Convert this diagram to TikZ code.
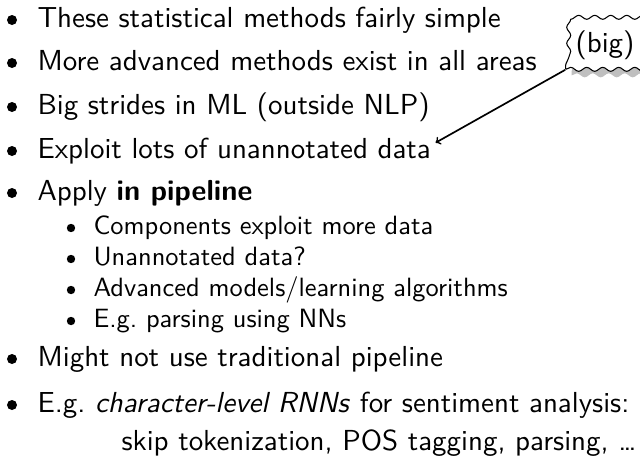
\documentclass[tikz,border=0pt]{standalone}
\usetikzlibrary{shapes.symbols,shadows,decorations.pathmorphing}
\begin{document}
\begin{tikzpicture}[x=0.025cm, y=-0.025cm,
    item/.style={anchor=base west, inner sep=0pt, scale=1.88, font=\fontsize{10.95}{13.6}\selectfont\sffamily},
    subitem/.style={anchor=base west, inner sep=0pt, scale=1.88, font=\fontsize{10}{12}\selectfont\sffamily},
    dot/.style={circle, fill=black, inner sep=0pt, minimum size=0.25cm},
    subdot/.style={circle, fill=black, inner sep=0pt, minimum size=0.21cm},
    note/.style={draw, line width=0.75pt, fill=white, inner sep=7pt,
      decorate, decoration={snake, amplitude=0.5mm, segment length=4mm},
      drop shadow={shadow xshift=1.5mm, shadow yshift=-1.5mm, fill=black!25, opacity=1}}]
    \useasboundingbox (0,0) rectangle (640,462);

    % main points
    \node[item] (it1) at (37,27)  {These statistical methods fairly simple};
    \node[item] (it2) at (37,70)  {More advanced methods exist in all areas};
    \node[item] (it3) at (37,114) {Big strides in ML (outside NLP)};
    \node[item] (it4) at (37,158) {Exploit lots of unannotated data};
    \node[item] (it5) at (37,200) {Apply \textbf{in pipeline}};
    \node[subitem] (sub1) at (93,234) {Components exploit more data};
    \node[subitem] (sub2) at (93,265) {Unannotated data?};
    \node[subitem] (sub3) at (93,296) {Advanced models/learning algorithms};
    \node[subitem] (sub4) at (93,327) {E.g.\ parsing using NNs};
    \node[item] (it6) at (37,366) {Might not use traditional pipeline};
    \node[item] (it7) at (37,412) {E.g.\ \textit{character-level RNNs} for sentiment analysis:};
    \node[item, anchor=base east] (it7b) at (637,450) {skip tokenization, POS tagging, parsing, \ldots};

    \foreach \y in {27,70,114,158,200,366,412}
      \node[dot] at (12,\y-7) {};
    \foreach \y in {234,265,296,327}
      \node[subdot] at (71,\y-6) {};

    % callout
    \node[note] (big) at (605,45) {\scalebox{1.88}{\fontsize{10.95}{13.6}\selectfont\sffamily (big)}};
    \coordinate (dataend) at ([xshift=3pt,yshift=-4pt]it4.north east);
    \draw[->, line width=1.2pt] (big.south west) -- (dataend);
\end{tikzpicture}
\end{document}
